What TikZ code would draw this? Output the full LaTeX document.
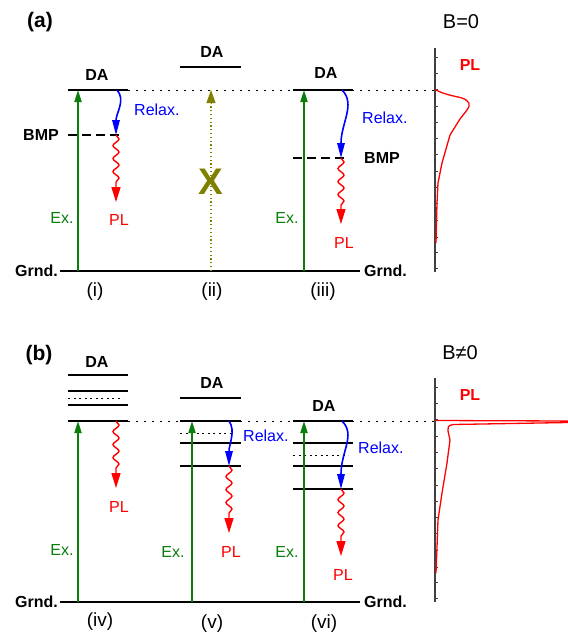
\documentclass[tikz,border=0pt]{standalone}
\usepackage{fontspec}
\setmainfont{Liberation Sans}
\usetikzlibrary{arrows.meta,decorations.pathmorphing,calc}
\definecolor{exgreen}{RGB}{10,125,10}
\definecolor{olivex}{RGB}{128,128,0}
\begin{document}
\begin{tikzpicture}[x=1pt,y=-1pt,
 lvl/.style={line width=2pt},
 bmpline/.style={line width=1.6pt, dash pattern=on 9pt off 5pt},
 subline/.style={line width=1pt, dash pattern=on 2pt off 3.5pt},
 guide/.style={line width=1pt, dash pattern=on 1.5pt off 6.5pt},
 exarr/.style={exgreen, line width=2pt, -{Triangle[length=12pt,width=7pt]}},
 relarr/.style={blue, line width=1.6pt, -{Triangle[length=15pt,width=7.5pt]}},
 plarr/.style={red, line width=1.4pt, -{Triangle[length=15pt,width=9pt]}, decorate,
   decoration={snake, amplitude=3pt, segment length=13pt, post length=15pt}},
 lab/.style={font=\fontsize{16}{18}\selectfont, inner sep=0pt},
 blab/.style={font=\bfseries\fontsize{16}{18}\selectfont, inner sep=0pt},
 numlab/.style={font=\fontsize{19}{21}\selectfont, inner sep=0pt},
 axisline/.style={line width=1.2pt, black!75},
 tick/.style={line width=0.6pt, black!75},
 spec/.style={red, line width=1.3pt, line join=round},
]
\useasboundingbox (0,0) rectangle (568,633);

%================ panel (a) =================
\node[font=\bfseries\fontsize{21}{23}\selectfont, inner sep=0pt] (la) at (40,22) {(a)};

% (i)
\coordinate (aDAL) at (68,90); \coordinate (aDAR) at (128,90);
\draw[lvl] (aDAL) -- (aDAR);
\node[blab] (aDAi) at (97,75) {DA};
\coordinate (aBL) at (68,135); \coordinate (aBR) at (123,135);
\draw[bmpline] (aBL) -- (aBR);
\node[blab, anchor=east] (aBMPi) at (59,135) {BMP};
\coordinate (gaL) at (60,271); \coordinate (gaR) at (360,271);
\draw[lvl] (gaL) -- (gaR);
\node[blab, anchor=east] (aGl) at (58,271) {Grnd.};
\node[blab, anchor=west] (aGr) at (364,271) {Grnd.};
\coordinate (ex1s) at (78,271); \coordinate (ex1e) at (78,90);
\draw[exarr] (ex1s) -- (ex1e);
\node[lab, exgreen] (ex1) at (62,218) {Ex.};
\coordinate (r1s) at (117,90); \coordinate (r1e) at (116,135);
\draw[relarr] (r1s) .. controls +(9,10) and +(0,-22) .. (r1e);
\node[lab, blue, anchor=west] (rl1) at (134,110) {Relax.};
\coordinate (p1e) at (116,202);
\draw[plarr] (r1e) -- (p1e);
\node[lab, red] (pl1) at (119,220) {PL};
\node[numlab] (n1) at (95,292) {(i)};

% (ii)
\coordinate (a2L) at (180,67); \coordinate (a2R) at (241,67);
\draw[lvl] (a2L) -- (a2R);
\node[blab] (aDAii) at (212,52) {DA};
\coordinate (x2s) at (211,271); \coordinate (x2e) at (211,90);
\coordinate (x2m) at (211,104);
\draw[olivex, line width=1.4pt, dash pattern=on 1.2pt off 2.6pt] (x2s) -- (x2m);
\draw[olivex, -{Triangle[length=13pt,width=9pt]}, line width=0.9pt] (x2m) -- (x2e);
\node[olivex, font=\bfseries\fontsize{37}{40}\selectfont, inner sep=0pt] (xx) at (211,182) {X};
\node[numlab] (n2) at (212,292) {(ii)};

% (iii)
\coordinate (a3L) at (293,90); \coordinate (a3R) at (353,90);
\draw[lvl] (a3L) -- (a3R);
\node[blab] (aDAiii) at (326,73) {DA};
\coordinate (b3L) at (293,158); \coordinate (b3R) at (348,158);
\draw[bmpline] (b3L) -- (b3R);
\node[blab, anchor=west] (aBMPiii) at (364,158) {BMP};
\coordinate (ex3s) at (304,271); \coordinate (ex3e) at (304,90);
\draw[exarr] (ex3s) -- (ex3e);
\node[lab, exgreen] (ex3) at (287,218) {Ex.};
\coordinate (r3s) at (342,90); \coordinate (r3e) at (341,158);
\draw[relarr] (r3s) .. controls +(14,14) and +(0,-35) .. (r3e);
\node[lab, blue, anchor=west] (rl3) at (362,118) {Relax.};
\coordinate (p3e) at (341,224);
\draw[plarr] (r3e) -- (p3e);
\node[lab, red] (pl3) at (344,243) {PL};
\node[numlab] (n3) at (323,292) {(iii)};

% guide line (a)
\coordinate (gdaL) at (128,90); \coordinate (gdaR) at (435,90);
\draw[guide] (gdaL) -- (gdaR);

% spectrum (a)
\coordinate (axaT) at (435,48); \coordinate (axaB) at (435,272);
\draw[axisline] (axaT) -- (axaB);
\foreach \t in {57,73,89.5,106,122,138,154,171,187,203,220,237,252,268}
  \draw[tick] (435,\t) -- (438,\t);
\node[font=\fontsize{20}{22}\selectfont, inner sep=0pt] (B0) at (461,22) {B=0};
\node[blab, red] (spa) at (470,65) {PL};
\draw[spec] (435,89.5) .. controls (445,95) and (455,96) .. (462,98)
  .. controls (470,101) and (471,105) .. (467,110)
  -- (460,119) -- (450,135) -- (442,163) -- (438,183) -- (437,203) -- (436,243);

%================ panel (b) =================
\node[font=\bfseries\fontsize{21}{23}\selectfont, inner sep=0pt] (lb) at (39,355) {(b)};

% (iv)
\node[blab] (bDAiv) at (97,362) {DA};
\foreach \yy in {375,391,405,421} \draw[lvl] (68,\yy) -- (128,\yy);
\draw[subline] (68,398) -- (123,398);
\coordinate (gbL) at (60,602); \coordinate (gbR) at (360,602);
\draw[lvl] (gbL) -- (gbR);
\node[blab, anchor=east] (bGl) at (58,602) {Grnd.};
\node[blab, anchor=west] (bGr) at (364,602) {Grnd.};
\coordinate (ex4s) at (78,602); \coordinate (ex4e) at (78,421);
\draw[exarr] (ex4s) -- (ex4e);
\node[lab, exgreen] (ex4) at (62,550) {Ex.};
\coordinate (p4s) at (116,421); \coordinate (p4e) at (116,488);
\draw[plarr] (p4s) -- (p4e);
\node[lab, red] (pl4) at (119,507) {PL};
\node[numlab] (n4) at (100,622) {(iv)};

% (v)
\node[blab] (bDAv) at (212,383) {DA};
\foreach \yy in {398,421,443,466} \draw[lvl] (180,\yy) -- (241,\yy);
\draw[subline] (180,433) -- (233,433);
\coordinate (ex5s) at (192,602); \coordinate (ex5e) at (192,421);
\draw[exarr] (ex5s) -- (ex5e);
\node[lab, exgreen] (ex5) at (173,552) {Ex.};
\coordinate (r5s) at (229,421); \coordinate (r5e) at (229,466);
\draw[relarr] (r5s) .. controls +(7,10) and +(0,-22) .. (r5e);
\node[lab, blue, anchor=west] (rl5) at (243,436) {Relax.};
\coordinate (p5e) at (229,533);
\draw[plarr] (r5e) -- (p5e);
\node[lab, red] (pl5) at (231,552) {PL};
\node[numlab] (n5) at (212,624) {(v)};

% (vi)
\node[blab] (bDAvi) at (324,406) {DA};
\foreach \yy in {421,443,466,489} \draw[lvl] (293,\yy) -- (353,\yy);
\draw[subline] (293,455) -- (348,455);
\coordinate (ex6s) at (304,602); \coordinate (ex6e) at (304,421);
\draw[exarr] (ex6s) -- (ex6e);
\node[lab, exgreen] (ex6) at (287,552) {Ex.};
\coordinate (r6s) at (342,421); \coordinate (r6e) at (341,489);
\draw[relarr] (r6s) .. controls +(14,14) and +(0,-38) .. (r6e);
\node[lab, blue, anchor=west] (rl6) at (358,448) {Relax.};
\coordinate (p6e) at (341,556);
\draw[plarr] (r6e) -- (p6e);
\node[lab, red] (pl6) at (343,575) {PL};
\node[numlab] (n6) at (324,624) {(vi)};

% guide line (b)
\coordinate (gdbL) at (128,421); \coordinate (gdbR) at (435,421);
\draw[guide] (gdbL) -- (gdbR);

% spectrum (b)
\coordinate (axbT) at (435,378); \coordinate (axbB) at (435,602);
\draw[axisline] (axbT) -- (axbB);
\foreach \t in {387,403,419,436,452,468,485,501,517,533,550,567,582,598}
  \draw[tick] (435,\t) -- (438,\t);
\node[font=\fontsize{20}{22}\selectfont, inner sep=0pt] (Bn0) at (460,353) {B≠0};
\node[blab, red] (spb) at (470,395) {PL};
\draw[spec] (435,420.5) -- (568,421) -- (568,422.5) -- (453,424.5)
  .. controls (447,425.5) and (448,428) .. (448,431)
  -- (450,440) -- (447,463) -- (442,493) -- (438,520) -- (437,547) -- (436,573);

\end{tikzpicture}
\end{document}
